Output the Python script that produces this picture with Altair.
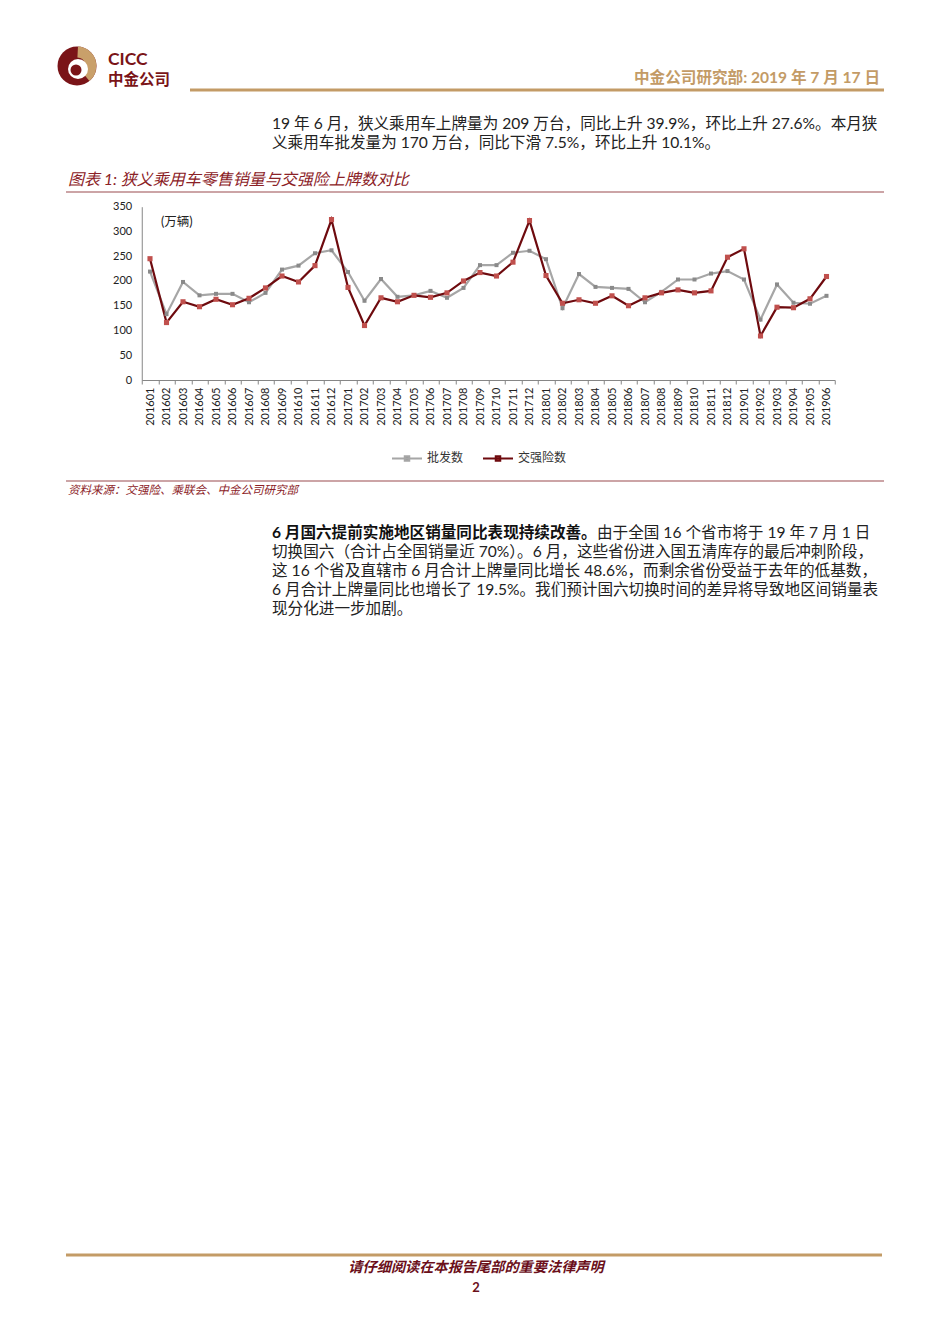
import altair as alt
import pandas as pd

months = [f"{y}{m:02d}" for y in (2016, 2017, 2018) for m in range(1, 13)] + [f"2019{m:02d}" for m in range(1, 7)]
wholesale = [219, 133, 198, 171, 174, 174, 157, 176, 223, 231, 256, 262,
             218, 160, 204, 168, 171, 180, 166, 186, 232, 232, 257, 261,
             244, 145, 214, 188, 186, 184, 157, 178, 203, 203, 215, 220,
             203, 122, 193, 156, 154, 170]
insurance = [245, 116, 158, 148, 163, 152, 165, 186, 210, 198, 231, 324,
             187, 110, 166, 158, 171, 167, 176, 200, 217, 210, 238, 322,
             211, 155, 162, 155, 170, 150, 166, 176, 182, 176, 180, 248,
             265, 89, 147, 146, 164, 209]
series_names = ["批发数", "交强险数"]
y_ticks = [0, 50, 100, 150, 200, 250, 300, 350]

df = pd.DataFrame({
    "month": months * 2,
    "series": [series_names[0]] * len(months) + [series_names[1]] * len(months),
    "value": wholesale + insurance,
})

# page geometry (page px -> plot coords)
OX, OY = 141.75, 206.7
PW, PH = 693.0, 173.3
def px(x):
    return x - OX
def py(y):
    return y - OY

LAT = "Lato, Noto Sans CJK SC"
CJK = "Noto Sans CJK SC"
MAROON = "#7A1418"
GOLD = "#C39B66"
BODY = 15.6

line_colors = ["#A6A6A6", "#6E0A0E"]
marker_colors = ["#8A8A8A", "#C0504D"]

xenc = alt.X("month:N", sort=months, title=None,
             scale=alt.Scale(type="band", paddingInner=0, paddingOuter=0),
             axis=alt.Axis(tickBand="extent", labelAngle=270, labelFont="Lato", labelFontSize=11,
                           labelColor="#222222", domainColor="#868686", tickColor="#868686",
                           tickSize=4, labelPadding=3, grid=False))
yenc = alt.Y("value:Q", title=None,
             scale=alt.Scale(domain=[0, 350], nice=False, zero=True),
             axis=alt.Axis(values=y_ticks, labelFont="Lato", labelFontSize=11, labelColor="#222222",
                           domainColor="#868686", ticks=False, labelPadding=10, grid=False))

legend = alt.Legend(title=None, orient="none", legendX=px(392) - 1, legendY=py(456) - 14,
                    direction="horizontal", labelFont=CJK, labelFontSize=12, labelColor="#333333",
                    symbolType="M-1,0H1M-0.15,-0.15H0.15V0.15H-0.15Z", symbolSize=900,
                    symbolStrokeWidth=2, labelOffset=4, columnPadding=15)

color_scale = alt.Scale(domain=series_names, range=line_colors)
fill_scale = alt.Scale(domain=series_names, range=marker_colors)

base = alt.Chart(df)
layers = []
for i, s in enumerate(series_names):
    layers.append(base.transform_filter(alt.datum.series == s).mark_line(strokeWidth=2.2).encode(
        x=xenc, y=yenc,
        color=alt.Color("series:N", scale=color_scale, legend=legend)))
for i, s in enumerate(series_names):
    layers.append(base.transform_filter(alt.datum.series == s).mark_square(size=16 if i == 0 else 26, opacity=1).encode(
        x=xenc, y=yenc,
        fill=alt.Fill("series:N", scale=fill_scale, legend=None)))

one = pd.DataFrame({"k": [0]})

def txt(s, x, y, size=14, color="#222222", font=LAT, weight="normal", style="normal", align="left", baseline="middle"):
    return alt.Chart(one).mark_text(text=s, fontSize=size, color=color, font=font, fontWeight=weight,
                                    fontStyle=style, align=align, baseline=baseline).encode(
        x=alt.value(px(x)), y=alt.value(py(y)))

def hline(x1, x2, y, color, w):
    return alt.Chart(one).mark_rule(color=color, strokeWidth=w).encode(
        x=alt.value(px(x1)), x2=alt.value(px(x2)), y=alt.value(py(y)))

def disk(cx, cy, r, color, r2=0, t1=0, t2=6.2832):
    return alt.Chart(one).mark_arc(color=color, radius=r, radius2=r2).encode(
        x=alt.value(px(cx)), y=alt.value(py(cy)), theta=alt.value(t1), theta2=alt.value(t2))

deco = [
    # logo
    disk(77, 66, 19.5, "#7A1418"),
    disk(77, 66, 19.5, "#C9A06A", r2=8.5, t1=0.05, t2=2.45),
    disk(78, 69, 10, "#FFFFFF"),
    disk(76, 70, 5.5, "#7A1418"),
    txt("CICC", 108, 64.5, size=17.5, color=MAROON, font="Lato", weight="bold", baseline="alphabetic"),
    txt("中金公司", 108, 80, size=15.5, color=MAROON, font=CJK, weight="bold"),
    txt("中金公司研究部: 2019 年 7 月 17 日", 880, 78, size=15.6, color=GOLD, weight="bold", align="right"),
    hline(190, 884, 90, GOLD, 3),
    # first paragraph
    txt("19 年 6 月，狭义乘用车上牌量为 209 万台，同比上升 39.9%，环比上升 27.6%。本月狭", 272, 124, size=BODY),
    txt("义乘用车批发量为 170 万台，同比下滑 7.5%，环比上升 10.1%。", 272, 143, size=BODY),
    # figure title
    txt("图表 1: 狭义乘用车零售销量与交强险上牌数对比", 68, 180, size=16, color="#8B2126", style="italic"),
    hline(66, 884, 192, "#9A4A4E", 1.2),
    txt("(万辆)", 161, 222, size=12.5, color="#222222"),
    hline(66, 884, 481, "#9A4A4E", 1.2),
    txt("资料来源：交强险、乘联会、中金公司研究部", 68, 491, size=11.5, color="#8B2126", style="italic"),
    # second paragraph
    txt("6 月国六提前实施地区销量同比表现持续改善。", 272, 533, size=BODY, weight="bold", color="#111111"),
    txt("由于全国 16 个省市将于 19 年 7 月 1 日", 597, 533, size=BODY),
    txt("切换国六（合计占全国销量近 70%）。6 月，这些省份进入国五清库存的最后冲刺阶段，", 272, 552, size=BODY),
    txt("这 16 个省及直辖市 6 月合计上牌量同比增长 48.6%，而剩余省份受益于去年的低基数，", 272, 571, size=BODY),
    txt("6 月合计上牌量同比也增长了 19.5%。我们预计国六切换时间的差异将导致地区间销量表", 272, 590, size=BODY),
    txt("现分化进一步加剧。", 272, 609, size=BODY),
    # footer
    hline(66, 882, 1255, GOLD, 3),
    txt("请仔细阅读在本报告尾部的重要法律声明", 476, 1268, size=14.2, color="#6B0F1A", weight="bold", style="italic", align="center"),
    txt("2", 476, 1288, size=13, color="#6B0F1A", font="Lato", weight="bold", align="center"),
]

chart = alt.layer(*layers, *deco).resolve_scale(color="shared").properties(
    width=PW, height=PH,
    autosize=alt.AutoSizeParams(type="none"),
    padding={"left": OX - 8, "top": OY - 8, "right": 934 - (OX - 8) - PW, "bottom": 1328 - (OY - 8) - PH},
    background="white",
).configure_view(stroke=None)

chart.save("out.html", embed_options={"renderer": "svg", "actions": False})
